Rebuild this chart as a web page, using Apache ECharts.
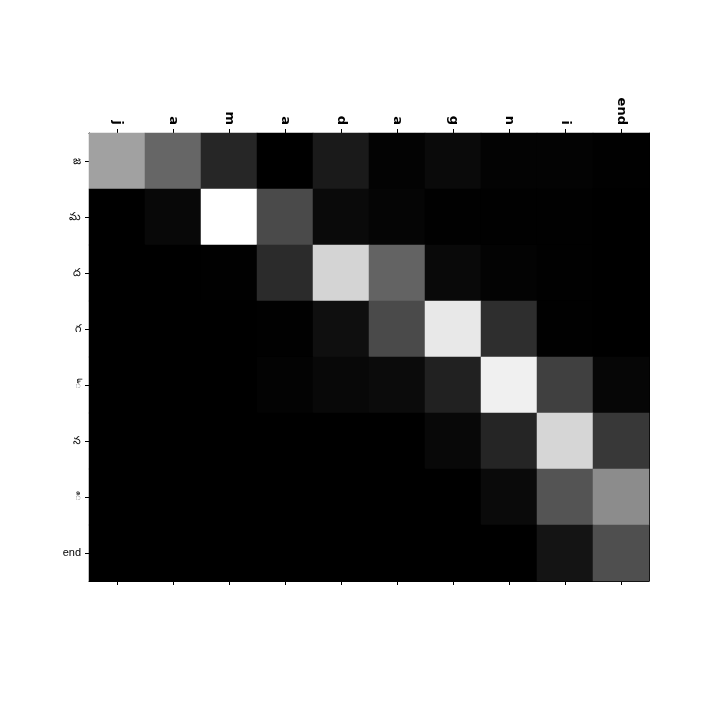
<!DOCTYPE html>
<html>
<head>
<meta charset="utf-8">
<script src="https://cdn.jsdelivr.net/npm/echarts@6/dist/echarts.min.js"></script>
<style>
  html, body { margin: 0; padding: 0; background: #fff; }
  #chart { width: 720px; height: 720px; }
</style>
</head>
<body>
<div id="chart"></div>
<script>
// input (latin) characters along the top, output (telugu) characters down the side
let inputChars = ['j', 'a', 'm', 'a', 'd', 'a', 'g', 'n', 'i', 'end']
let outputChars = ['జ', 'మ', 'ద', 'గ', '్', 'న', 'ి', 'end']

// attention weights, one row per output char
let weights = [
    [0.63, 0.40, 0.15, 0.00, 0.10, 0.01, 0.04, 0.01, 0.01, 0.005],
    [0.00, 0.03, 1.00, 0.29, 0.04, 0.02, 0.005, 0.005, 0.005, 0.00],
    [0.00, 0.00, 0.003, 0.17, 0.83, 0.39, 0.035, 0.01, 0.005, 0.00],
    [0.00, 0.00, 0.00, 0.005, 0.06, 0.29, 0.91, 0.18, 0.005, 0.00],
    [0.00, 0.00, 0.00, 0.01, 0.03, 0.045, 0.13, 0.94, 0.25, 0.025],
    [0.00, 0.00, 0.00, 0.00, 0.00, 0.00, 0.03, 0.145, 0.84, 0.22],
    [0.00, 0.00, 0.00, 0.00, 0.00, 0.00, 0.00, 0.04, 0.33, 0.55],
    [0.00, 0.00, 0.00, 0.00, 0.00, 0.00, 0.00, 0.00, 0.08, 0.31]
]

let cells = []
weights.forEach((row, y) => {
    row.forEach((v, x) => {
        cells.push([x, y, v])
    })
})

let chart = echarts.init(document.querySelector('#chart'))

let spine = {show: true, lineStyle: {color: '#000', width: 1}}
let tick = {show: true, alignWithLabel: true, length: 4, lineStyle: {color: '#000'}}

chart.setOption({
    animation: false,
    grid: {left: 89, top: 133, width: 560, height: 448},
    visualMap: {
        show: false,
        min: 0,
        max: 1,
        dimension: 2,
        inRange: {color: ['#000000', '#ffffff']}
    },
    xAxis: [
        {
            type: 'category',
            position: 'top',
            data: inputChars,
            axisLine: spine,
            axisTick: tick,
            axisLabel: {
                rotate: 90,
                color: '#000',
                fontFamily: 'DejaVu Sans',
                fontWeight: 'bold',
                fontSize: 13,
                margin: 8
            },
            splitLine: {show: false}
        },
        {
            type: 'category',
            position: 'bottom',
            data: inputChars,
            axisLine: spine,
            axisTick: tick,
            axisLabel: {show: false},
            splitLine: {show: false}
        }
    ],
    yAxis: [
        {
            type: 'category',
            inverse: true,
            position: 'left',
            data: outputChars,
            axisLine: spine,
            axisTick: tick,
            axisLabel: {
                color: '#000',
                fontFamily: 'Liberation Sans',
                fontSize: 11,
                margin: 8
            },
            splitLine: {show: false}
        },
        {
            type: 'category',
            inverse: true,
            position: 'right',
            data: outputChars,
            axisLine: spine,
            axisTick: {show: false},
            axisLabel: {show: false},
            splitLine: {show: false}
        }
    ],
    series: [
        {
            type: 'heatmap',
            xAxisIndex: 0,
            yAxisIndex: 0,
            data: cells,
            itemStyle: {borderWidth: 0},
            emphasis: {disabled: true}
        }
    ]
})
</script>
</body>
</html>
